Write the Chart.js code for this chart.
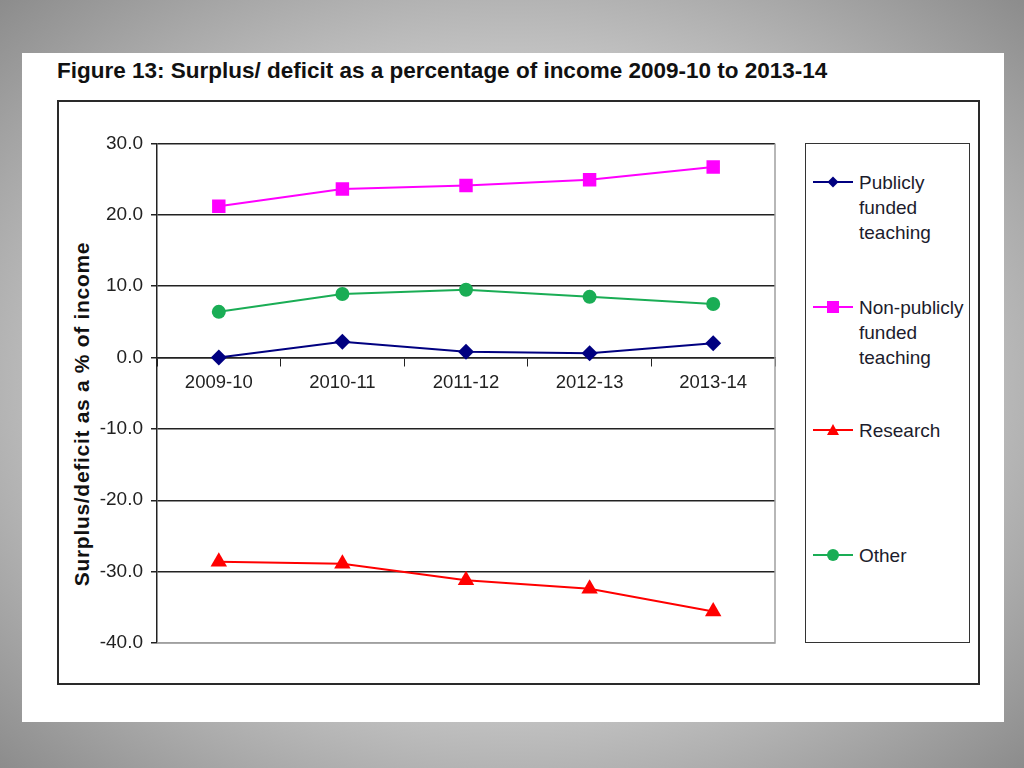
<!DOCTYPE html>
<html>
<head>
<meta charset="utf-8">
<script src="https://cdn.jsdelivr.net/npm/chart.js@4.4.0/dist/chart.umd.min.js"></script>
<style>
  html, body { margin: 0; padding: 0; }
  body {
    width: 1024px; height: 768px; position: relative; overflow: hidden;
    background: radial-gradient(ellipse at 50% 50%, #f4f4f4 0%, #d0d0d0 50%, #8c8c8c 100%);
    font-family: Arial, "Liberation Sans", sans-serif;
  }
  #slide { position: absolute; left: 22px; top: 53px; width: 982px; height: 669px; background: #fff; }
  #title {
    position: absolute; left: 57px; top: 60px; font-weight: bold; font-size: 22.5px;
    line-height: 22.5px; color: #111; white-space: nowrap;
  }
  #box { position: absolute; left: 57px; top: 100px; width: 919px; height: 581px; border: 2px solid #2a2a2a; }
  #ytitle {
    position: absolute; left: 82px; top: 414px; transform: translate(-50%, -50%) rotate(-90deg);
    font-weight: bold; font-size: 21px; letter-spacing: 0.7px; white-space: nowrap; color: #111;
  }
  #wrap { position: absolute; left: 100px; top: 124px; width: 690px; height: 539px; }
  #legend { position: absolute; left: 805px; top: 143px; width: 163px; height: 498px; border: 1.5px solid #333; }
  .item { position: absolute; left: 7px; width: 155px; }
  .item svg { position: absolute; left: 0; top: 4px; }
  .item span {
    position: absolute; left: 46px; width: 110px; font-size: 19px; line-height: 25px; color: #1c1c2c;
  }
</style>
</head>
<body>
<div id="slide"></div>
<div id="title">Figure 13: Surplus/ deficit as a percentage of income 2009-10 to 2013-14</div>
<div id="box"></div>
<div id="ytitle">Surplus/deficit as a % of income</div>
<div id="wrap"><canvas id="chart"></canvas></div>
<div id="legend"></div>
<script>
const years = ['2009-10', '2010-11', '2011-12', '2012-13', '2013-14'];
const seriesNames = ['Publicly funded teaching', 'Non-publicly funded teaching', 'Research', 'Other'];
const publiclyFunded = [0.0, 2.2, 0.8, 0.6, 2.0];
const nonPubliclyFunded = [21.2, 23.6, 24.1, 24.9, 26.7];
const research = [-28.6, -28.9, -31.2, -32.4, -35.6];
const other = [6.4, 8.9, 9.5, 8.5, 7.5];
const yTicks = [30, 20, 10, 0, -10, -20, -30, -40];

const colors = ['#000080', '#ff00ff', '#ff0000', '#1aad55'];
const markers = ['rectRot', 'rect', 'triangle', 'circle'];
const radii = [8, 9.5, 9.5, 7];
const values = [publiclyFunded, nonPubliclyFunded, research, other];

const datasets = seriesNames.map((name, i) => ({
  label: name,
  data: values[i],
  borderColor: colors[i],
  backgroundColor: colors[i],
  borderWidth: 2,
  pointStyle: markers[i],
  pointRadius: radii[i],
  pointBorderWidth: 0,
  tension: 0
}));

// gray right and bottom edges of the plot area
const plotEdge = {
  id: 'plotEdge',
  beforeDatasetsDraw(chart) {
    const a = chart.chartArea;
    const ctx = chart.ctx;
    ctx.save();
    ctx.strokeStyle = '#a0a0a0';
    ctx.lineWidth = 1.5;
    ctx.beginPath();
    ctx.moveTo(a.right, a.top);
    ctx.lineTo(a.right, a.bottom);
    ctx.lineTo(a.left, a.bottom);
    ctx.stroke();
    ctx.restore();
  }
};

new Chart(document.getElementById('chart'), {
  type: 'line',
  data: { labels: years, datasets: datasets },
  plugins: [plotEdge],
  options: {
    responsive: true,
    maintainAspectRatio: false,
    animation: false,
    layout: { padding: { left: 0, top: 11, right: 15, bottom: 20 } },
    plugins: { legend: { display: false }, tooltip: { enabled: false } },
    scales: {
      x: {
        position: { y: 0 },
        offset: true,
        afterFit: (scale) => { scale.height = 0; },
        grid: { drawOnChartArea: false, color: '#222', tickLength: 8, offset: true },
        border: { color: '#222', width: 1.5 },
        ticks: { color: '#222', font: { family: 'Arial', size: 18.5 }, padding: 6 }
      },
      y: {
        min: -40,
        max: 30,
        afterFit: (scale) => { scale.width = 57; },
        afterBuildTicks: (scale) => { scale.ticks = yTicks.map(v => ({ value: v })); },
        grid: {
          color: (c) => (c.tick && c.tick.value === -40 ? '#a0a0a0' : '#222'),
          lineWidth: 1.5,
          tickColor: '#222',
          tickLength: 6
        },
        border: { color: '#222', width: 1.5 },
        ticks: {
          color: '#222',
          font: { family: 'Arial', size: 19 },
          padding: 8,
          callback: (v) => Number(v).toFixed(1)
        }
      }
    }
  }
});

// legend built from the same series
const legendTops = [26, 151, 274, 399];
const legend = document.getElementById('legend');
seriesNames.forEach((name, i) => {
  const c = colors[i];
  let mark;
  if (markers[i] === 'rectRot') mark = `<polygon points="20,2.5 25.5,8 20,13.5 14.5,8" fill="${c}"/>`;
  else if (markers[i] === 'rect') mark = `<rect x="14" y="2" width="12" height="12" fill="${c}"/>`;
  else if (markers[i] === 'triangle') mark = `<polygon points="20,2 26,13 14,13" fill="${c}"/>`;
  else mark = `<circle cx="20" cy="8" r="6" fill="${c}"/>`;
  const div = document.createElement('div');
  div.className = 'item';
  div.style.top = legendTops[i] + 'px';
  div.innerHTML = `<svg width="42" height="16"><line x1="0" y1="8" x2="40" y2="8" stroke="${c}" stroke-width="2"/>${mark}</svg><span>${name}</span>`;
  legend.appendChild(div);
});
</script>
</body>
</html>
